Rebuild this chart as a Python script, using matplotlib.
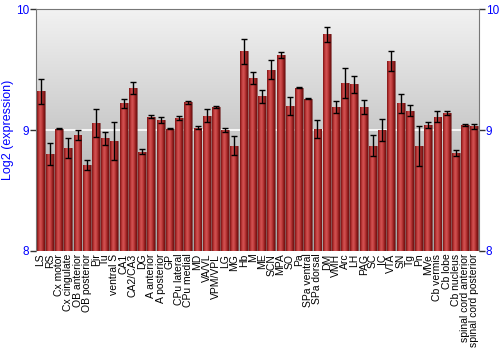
import numpy as np
import matplotlib
matplotlib.use("Agg")
import matplotlib.pyplot as plt
from matplotlib.colors import LinearSegmentedColormap

# Regiones y valores (log2 expression)
regiones = ["LS", "RS", "Cx motor", "Cx cingulate", "OB anterior", "OB posterior",
            "Pir", "Tu", "ventral S", "CA1", "CA2/CA3", "DG", "A anterior",
            "A posterior", "GP", "CPu lateral", "CPu medial", "MD", "VA/VL",
            "VPM/VPL", "LG", "MG", "Hb", "M", "ME", "SCN", "MPA", "SO", "Pa",
            "SPa ventral", "SPa dorsal", "DM", "VMH", "Arc", "LH", "PAG", "SC",
            "IC", "VTA", "SN", "Tg", "Pn", "MVe", "Cb vermis", "Cb lobe",
            "Cb nucleus", "spinal cord anterior", "spinal cord posterior"]
valores = [9.32, 8.80, 9.01, 8.85, 8.96, 8.71, 9.06, 8.93, 8.91, 9.22, 9.35, 8.82,
           9.11, 9.08, 9.01, 9.10, 9.23, 9.02, 9.12, 9.19, 9.00, 8.87, 9.65, 9.43,
           9.28, 9.50, 9.62, 9.20, 9.35, 9.26, 9.01, 9.79, 9.19, 9.39, 9.38, 9.19,
           8.87, 9.00, 9.57, 9.22, 9.16, 8.87, 9.04, 9.11, 9.14, 8.81, 9.04, 9.03]
errores = [0.105, 0.09, 0.004, 0.08, 0.04, 0.04, 0.117, 0.055, 0.16, 0.04, 0.05, 0.02,
           0.014, 0.025, 0.005, 0.02, 0.012, 0.015, 0.05, 0.005, 0.02, 0.08, 0.10, 0.048,
           0.055, 0.08, 0.024, 0.073, 0.003, 0.003, 0.075, 0.06, 0.05, 0.125, 0.07, 0.06,
           0.085, 0.088, 0.085, 0.076, 0.044, 0.165, 0.026, 0.046, 0.017, 0.022, 0.007, 0.018]

azul = "#0000ff"
fig = plt.figure(figsize=(5, 3.5), dpi=100)
ax = fig.add_axes([0.072, 0.283, 0.886, 0.691])

x = np.arange(len(regiones))
ax.set_xlim(-0.5, len(regiones) - 0.5)
ax.set_ylim(8, 10)

# Fondo con degradado gris
fondo = LinearSegmentedColormap.from_list("fondo", ["#a2a2a2", "#f2f2f2"])
ax.imshow(np.linspace(0, 1, 256).reshape(-1, 1), cmap=fondo, aspect="auto",
          extent=(-0.5, len(regiones) - 0.5, 8, 10), origin="lower", zorder=0)
ax.axhline(9, color="white", lw=1.2, zorder=1)

# Barras con sombreado cilíndrico
barras = ax.bar(x, np.array(valores) - 8, bottom=8, width=0.86, color="none",
                edgecolor="#6a1010", linewidth=0.4, zorder=2)
rojo = LinearSegmentedColormap.from_list(
    "rojo", ["#7a1414", "#b83434", "#d25454", "#c44040", "#9a2222", "#6e1010"])
grad = np.linspace(0, 1, 64).reshape(1, -1)
for b in barras:
    x0, y0 = b.get_x(), b.get_y()
    im = ax.imshow(grad, cmap=rojo, aspect="auto",
                   extent=(x0, x0 + b.get_width(), y0, y0 + b.get_height()), zorder=2)
    im.set_clip_path(b)

ax.errorbar(x, valores, yerr=errores, fmt="none", ecolor="black", elinewidth=1,
            capsize=2, capthick=1, zorder=3)

ax.set_xticks(x)
ax.set_xticklabels(regiones, rotation=90, fontsize=7.5, family="Liberation Sans")
ax.tick_params(axis="x", length=0, pad=2)

ax.set_yticks([8, 9, 10])
ax.tick_params(axis="y", labelcolor=azul, labelsize=8.5, length=4, width=1, pad=1,
               color="#333333", right=True, labelright=True)
for t in ax.get_yticklabels() + ax.yaxis.get_ticklabels(which="major"):
    t.set_family("Liberation Sans")
for t in ax.yaxis.get_majorticklabels():
    t.set_family("Liberation Sans")
ax.set_ylabel("Log2 (expression)", color=azul, fontsize=9, family="Liberation Sans")
ax.yaxis.set_label_coords(-0.063, 0.5)
ax.yaxis.label.set_va("center")

for lado in ["left", "right", "top"]:
    ax.spines[lado].set_color("#777777")
ax.spines["bottom"].set_visible(False)

fig.savefig("out.png", dpi=100)
